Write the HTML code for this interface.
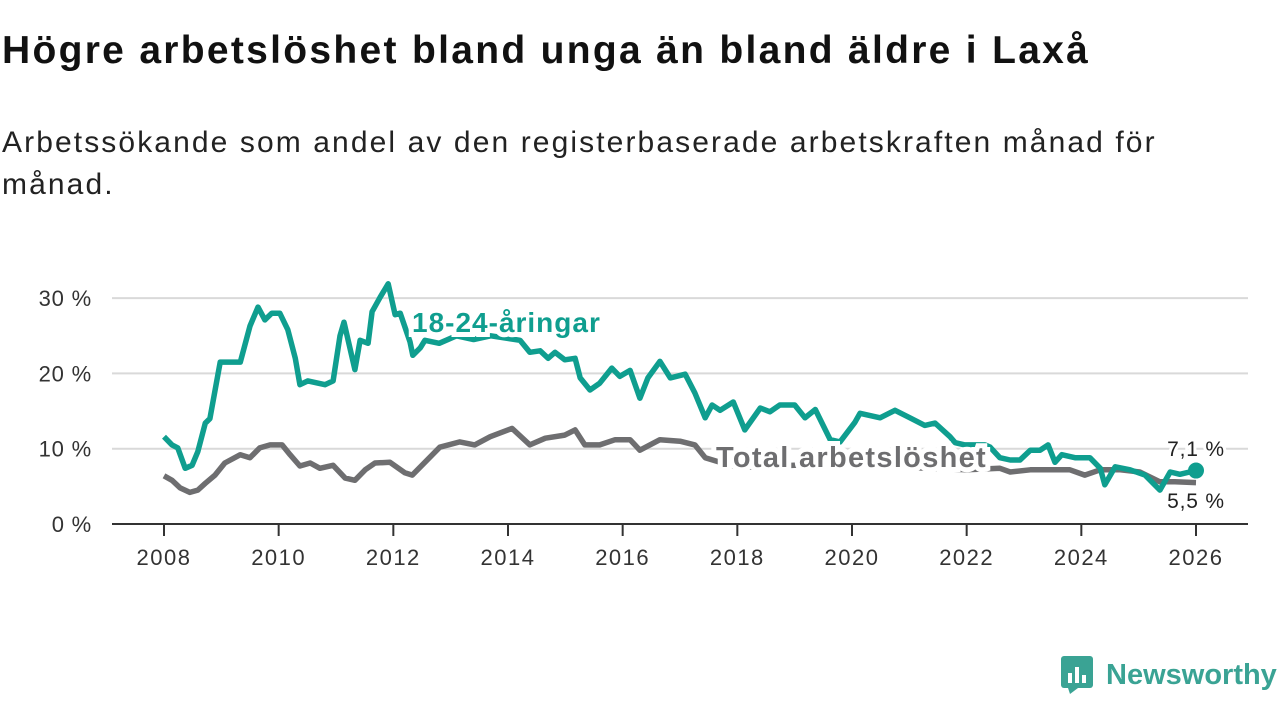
<!DOCTYPE html>
<html><head><meta charset="utf-8"><style>
body{margin:0;width:1280px;height:720px;background:#fff;font-family:"Liberation Sans",sans-serif;overflow:hidden;position:relative}
h1{position:absolute;left:2px;top:29px;margin:0;font-size:39px;letter-spacing:2.3px;font-weight:bold;color:#111}
p{position:absolute;left:2px;top:122px;margin:0;font-size:30px;letter-spacing:2.1px;line-height:42px;color:#222;width:1200px}
</style></head><body>
<h1>Högre arbetslöshet bland unga än bland äldre i Laxå</h1>
<p>Arbetssökande som andel av den registerbaserade arbetskraften månad för månad.</p>
<svg id="chart" width="1280" height="720" style="position:absolute;left:0;top:0"></svg>
<div style="position:absolute;left:1060px;top:655px;display:flex;align-items:center">
<svg width="34" height="40"><rect x="1" y="1" width="32" height="32" rx="3" fill="#3aa394"/><polygon points="8,33 18,33 10,39" fill="#3aa394"/><rect x="8" y="18" width="4" height="10" fill="#fff"/><rect x="15" y="12" width="4" height="16" fill="#fff"/><rect x="22" y="20" width="4" height="8" fill="#fff"/></svg>
<span style="font-size:29px;color:#3aa394;margin-left:12px;font-weight:bold">Newsworthy</span></div>
<script>
const yTicks=[0,10,20,30];
const xTicks=[2008,2010,2012,2014,2016,2018,2020,2022,2024,2026];
const youthYears=[2008.0,2008.14,2008.24,2008.37,2008.49,2008.59,2008.72,2008.8,2008.98,2009.33,2009.5,2009.64,2009.76,2009.88,2010.02,2010.16,2010.29,2010.37,2010.51,2010.69,2010.81,2010.95,2011.07,2011.14,2011.33,2011.42,2011.56,2011.63,2011.77,2011.91,2012.03,2012.12,2012.29,2012.34,2012.47,2012.55,2012.8,2013.1,2013.4,2013.7,2014.21,2014.38,2014.56,2014.7,2014.82,2014.99,2015.17,2015.26,2015.43,2015.6,2015.81,2015.95,2016.13,2016.3,2016.44,2016.65,2016.83,2017.09,2017.26,2017.44,2017.56,2017.7,2017.93,2018.13,2018.4,2018.57,2018.74,2019.0,2019.18,2019.36,2019.62,2019.79,2020.05,2020.14,2020.49,2020.75,2021.01,2021.27,2021.45,2021.71,2021.8,2021.97,2022.32,2022.41,2022.58,2022.76,2022.93,2023.11,2023.28,2023.42,2023.54,2023.66,2023.89,2024.15,2024.33,2024.41,2024.59,2024.85,2025.11,2025.37,2025.55,2025.72,2026.0];
const youthValues=[11.6,10.5,10.1,7.4,7.8,9.6,13.4,14,21.5,21.5,26.3,28.8,27.1,28,28,25.8,22,18.5,19,18.7,18.5,19,25,26.8,20.5,24.4,24,28.2,30.1,31.9,27.8,28,24.2,22.4,23.4,24.4,24,25,24.5,25,24.4,22.8,23,22,22.8,21.8,22,19.4,17.8,18.7,20.7,19.6,20.4,16.7,19.4,21.6,19.4,19.9,17.4,14.1,15.8,15.1,16.2,12.5,15.4,14.9,15.8,15.8,14.1,15.2,11.2,10.9,13.5,14.7,14.1,15.1,14.1,13.1,13.4,11.6,10.8,10.5,10.5,10.2,8.8,8.5,8.5,9.8,9.8,10.5,8.2,9.2,8.8,8.8,7.4,5.2,7.6,7.2,6.5,4.5,6.9,6.6,7.1];
const totalYears=[2008.0,2008.14,2008.28,2008.45,2008.59,2008.72,2008.89,2009.06,2009.33,2009.5,2009.67,2009.85,2010.06,2010.2,2010.37,2010.55,2010.72,2010.95,2011.16,2011.33,2011.51,2011.68,2011.94,2012.2,2012.33,2012.55,2012.81,2013.16,2013.42,2013.69,2014.07,2014.38,2014.65,2014.99,2015.17,2015.34,2015.6,2015.87,2016.13,2016.3,2016.65,2017.0,2017.26,2017.44,2018.0,2019.0,2020.0,2021.0,2022.0,2022.58,2022.76,2023.11,2023.37,2023.8,2024.06,2024.33,2024.68,2025.02,2025.37,2025.63,2026.0];
const totalValues=[6.4,5.8,4.8,4.2,4.5,5.4,6.5,8.1,9.2,8.8,10.1,10.5,10.5,9.2,7.7,8.1,7.4,7.8,6.1,5.8,7.2,8.1,8.2,6.8,6.5,8.2,10.2,10.9,10.5,11.6,12.7,10.5,11.4,11.8,12.5,10.5,10.5,11.2,11.2,9.8,11.2,11,10.5,8.8,7.5,7.8,8,7.5,7.2,7.4,6.9,7.2,7.2,7.2,6.5,7.2,7.2,6.9,5.6,5.6,5.5];
const NS="http://www.w3.org/2000/svg";
const svg=document.getElementById('chart');
const X=y=>164+(y-2008)*(1032/18);
const Y=v=>524-v*7.53;
function el(t,a,txt){const e=document.createElementNS(NS,t);for(const k in a)e.setAttribute(k,a[k]);if(txt!==undefined)e.textContent=txt;svg.appendChild(e);return e;}
yTicks.forEach(v=>{
  if(v>0){const g=el('line',{x1:112,x2:1248,y1:Y(v),y2:Y(v),stroke:'#d9d9d9','stroke-width':2});
  
  }
  const t=el('text',{x:92,y:Y(v)+8,'text-anchor':'end','font-size':22,'letter-spacing':0.8,fill:'#333','font-family':'Liberation Sans'},v+' %');
  
  
});
xTicks.forEach(yr=>{
  const m=el('line',{x1:X(yr),x2:X(yr),y1:524,y2:536,stroke:'#333','stroke-width':2});
  
  
  const t=el('text',{x:X(yr),y:565,'text-anchor':'middle','font-size':22,'letter-spacing':1.5,fill:'#333','font-family':'Liberation Sans'},yr);
  
  
});
const ax=el('line',{x1:112,x2:1248,y1:524,y2:524,stroke:'#333','stroke-width':2});


function path(xs,vs,c,name){
  const d=xs.map((x,i)=>(i?'L':'M')+X(x).toFixed(1)+','+Y(vs[i]).toFixed(1)).join('');
  const p=el('path',{d:d,fill:'none',stroke:c,'stroke-width':5.5,'stroke-linejoin':'round'});
  
  
}
path(totalYears,totalValues,'#6e6e70','total-line');
path(youthYears,youthValues,'#0f9e8f','youth-line');
const d1=el('circle',{cx:X(2026),cy:Y(youthValues[youthValues.length-1]),r:8,fill:'#0f9e8f'});


const l1=el('text',{x:412,y:332,'font-size':28,'letter-spacing':1,'font-weight':'bold',fill:'#0f9e8f',stroke:'#fff','stroke-width':10,'paint-order':'stroke','font-family':'Liberation Sans'},'18-24-åringar');


const l2=el('text',{x:716,y:467,'font-size':29,'letter-spacing':1.3,'font-weight':'bold',fill:'#6e6e70',stroke:'#fff','stroke-width':10,'paint-order':'stroke','font-family':'Liberation Sans'},'Total arbetslöshet');


const v1=el('text',{x:1196,y:456,'text-anchor':'middle','font-size':21,'letter-spacing':0.8,fill:'#222',stroke:'#fff','stroke-width':6,'paint-order':'stroke','font-family':'Liberation Sans'},'7,1 %');


const v2=el('text',{x:1196,y:508,'text-anchor':'middle','font-size':21,'letter-spacing':0.8,fill:'#222',stroke:'#fff','stroke-width':6,'paint-order':'stroke','font-family':'Liberation Sans'},'5,5 %');


</script>
</body></html>
